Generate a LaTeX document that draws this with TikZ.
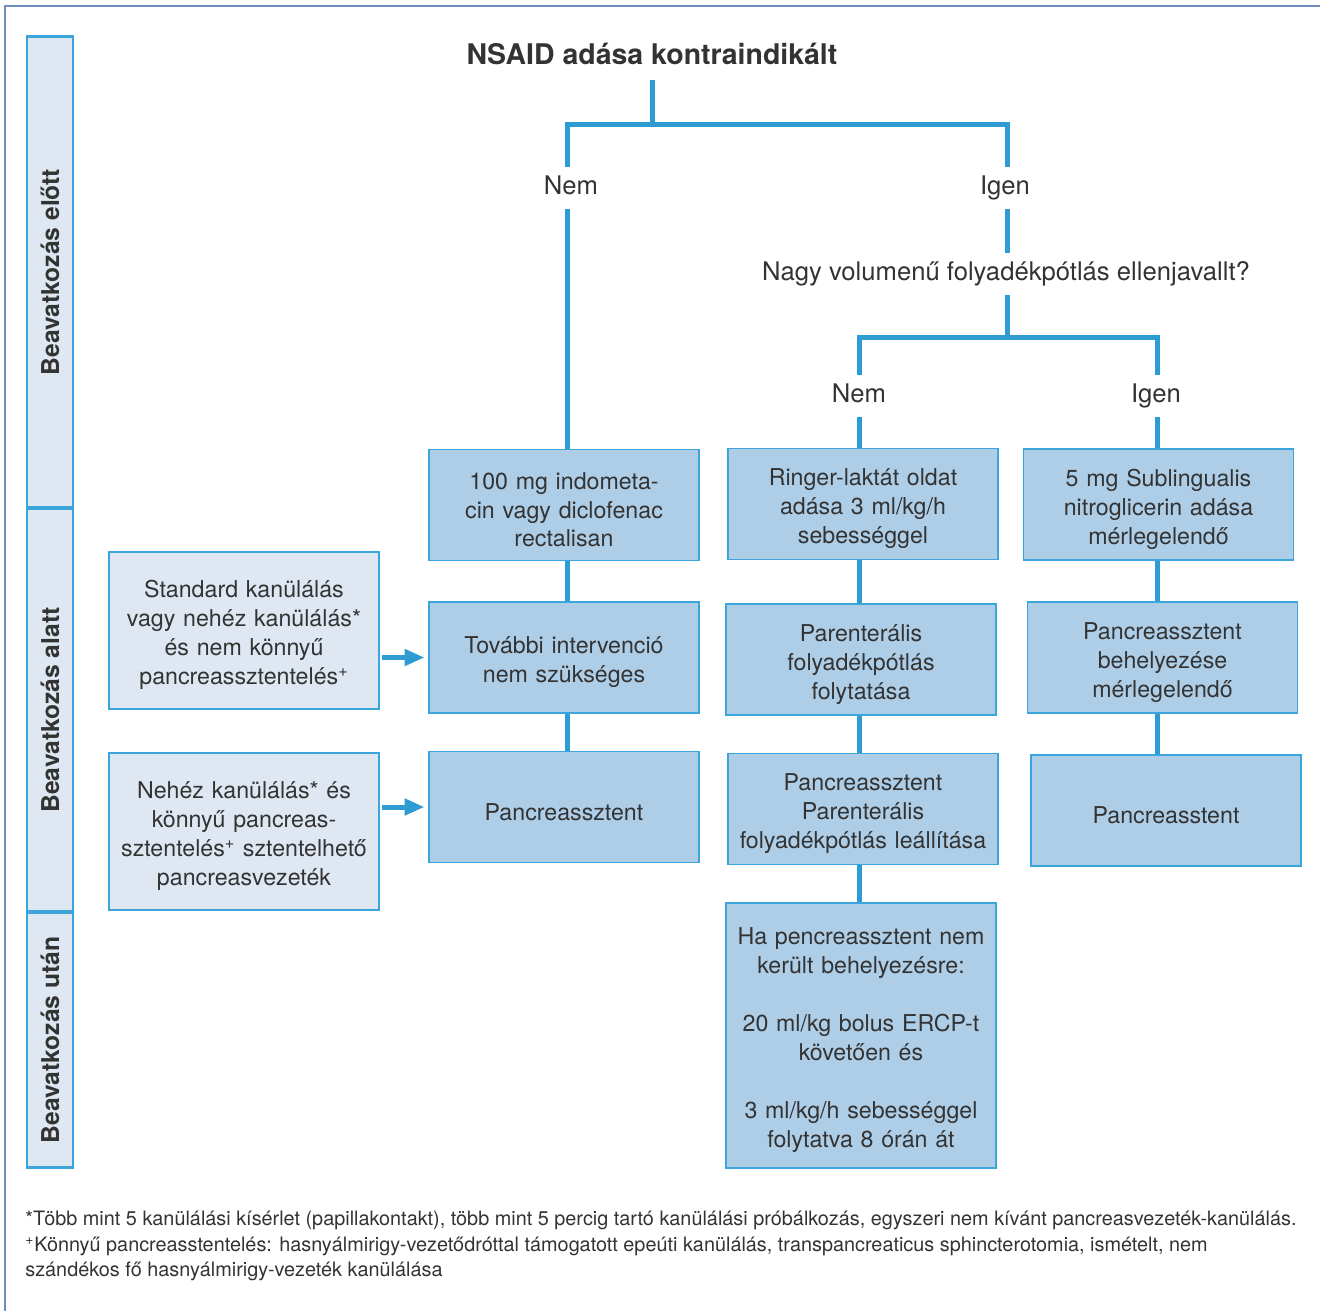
\documentclass[tikz,border=0pt]{standalone}
\usepackage{fontspec}
\setmainfont{TeX Gyre Heros}
\usetikzlibrary{arrows.meta,positioning}

\definecolor{linkblue}{HTML}{2E9BD2}
\definecolor{edgeblue}{HTML}{3AA6DC}
\definecolor{boxblue}{HTML}{AECEE8}
\definecolor{paleblue}{HTML}{DFE8F2}
\definecolor{framegray}{HTML}{6F8FBF}
\definecolor{txtgray}{HTML}{333333}

\begin{document}
\begin{tikzpicture}[
  x=0.02cm, y=-0.02cm,
  line join=miter,
  every node/.style={text=txtgray, font=\fontsize{14.6}{16.5}\selectfont},
  box/.style={draw=edgeblue, line width=1.1pt, fill=boxblue, align=center,
    text width=5.3cm, minimum width=5.4cm, minimum height=2.22cm, inner sep=1pt,
    text height=15pt, font=\fontsize{13.2}{16.5}\selectfont},
  sidebox/.style={box, fill=paleblue, minimum height=3.14cm},
  band/.style={draw=edgeblue, line width=1.7pt, fill=paleblue, rotate=90,
    minimum height=0.92cm, inner sep=0pt, font=\fontsize{14}{16.5}\selectfont\bfseries},
  lbl/.style={inner sep=2pt, text height=10.5pt, text depth=3pt, minimum height=0.84cm},
  title/.style={inner sep=2pt, minimum height=1.04cm, font=\fontsize{16.2}{19}\selectfont\bfseries},
  link/.style={draw=linkblue, line width=0.1cm},
  push/.style={draw=linkblue, line width=0.1cm, -{Triangle[length=0.4cm,width=0.32cm]},
    shorten >=2pt, shorten <=1pt},
  frame/.style={draw=framegray, line width=0.9pt}
]
\useasboundingbox (0,0) rectangle (1320,1311);

% ------------------------------------------------------------------
% Frame and phase bands
% ------------------------------------------------------------------
\draw[frame] (5,1311) -- (5,6) -- (1320,6);

\node[band, minimum width=9.44cm] (pre) at (50,272) {Beavatkozás előtt};
\node[band, minimum width=8.08cm] (intra) at (50,710) {Beavatkozás alatt};
\node[band, minimum width=5.12cm] (post) at (50,1040) {Beavatkozás után};

% ------------------------------------------------------------------
% Decision tree
% ------------------------------------------------------------------
\coordinate (colA) at (567,0);
\coordinate (colQ) at (1007,0);
\coordinate (colB) at (859,0);
\coordinate (colC) at (1157,0);
\coordinate (j1) at (652,125);
\coordinate (j2) at (1007,338);

\node[title] (nsaid) at (652,54) {NSAID adása kontraindikált};
\node[lbl] (nem1) at (571,188) {Nem};
\node[lbl] (igen1) at (1005,188) {Igen};
\node[lbl] (quest) at (1006,274) {Nagy volumenű folyadékpótlás ellenjavallt?};
\node[lbl] (nem2) at (859,396) {Nem};
\node[lbl] (igen2) at (1156,396) {Igen};

% left column
\node[box] (A1) at (564,505) {100 mg indometa-\\cin vagy diclofenac\\rectalisan};
\node[box] (A2) at (564,657.5) {További intervenció\\nem szükséges};
\node[box] (A3) at (564,807) {Pancreassztent};

\node[sidebox] (L1) at (244,630.5)
  {Standard kanülálás\\vagy nehéz kanülálás*\\és nem könnyű\\pancreassztentelés\textsuperscript{+}};
\node[sidebox] (L2) at (244,831.5)
  {Nehéz kanülálás* és\\könnyű pancreas-\\sztentelés\textsuperscript{+} sztentelhető\\pancreasvezeték};

% middle column
\node[box] (B1) at (863,504) {Ringer-laktát oldat\\adása 3 ml/kg/h\\sebességgel};
\node[box] (B2) at (861,659.5) {Parenterális\\folyadékpótlás\\folytatása};
\node[box] (B3) at (863,809) {Pancreassztent\\Parenterális\\folyadékpótlás leállítása};
\node[box, minimum height=5.3cm] (B4) at (861,1035.5)
  {Ha pencreassztent nem\\került behelyezésre:\\[16.5pt]20 ml/kg bolus ERCP-t\\követően és\\[16.5pt]3 ml/kg/h sebességgel\\folytatva 8 órán át};

% right column
\node[box] (C1) at (1158.5,504.5) {5 mg Sublingualis\\nitroglicerin adása\\mérlegelendő};
\node[box] (C2) at (1162.5,657.5) {Pancreassztent\\behelyezése\\mérlegelendő};
\node[box] (C3) at (1166,810.5) {Pancreasstent};

% connectors
\draw[link] (nsaid) -- (j1);
\draw[link] (nem1.north -| colA) |- (j1) -| (igen1.north -| colQ);
\draw[link] (nem1.south -| colA) -- (A1.north -| colA);
\draw[link] (igen1.south -| colQ) -- (quest.north -| colQ);
\draw[link] (quest.south -| colQ) -- (j2);
\draw[link] (nem2.north -| colB) |- (j2) -| (igen2.north -| colC);
\draw[link] (nem2.south -| colB) -- (B1.north -| colB);
\draw[link] (igen2.south -| colC) -- (C1.north -| colC);

\foreach \u/\v/\c in {A1/A2/colA, A2/A3/colA, B1/B2/colB, B2/B3/colB,
                      B3/B4/colB, C1/C2/colC, C2/C3/colC}
  \draw[link] (\u.south -| \c) -- (\v.north -| \c);

\draw[push] (L1.east |- A2) -- (A2.west);
\draw[push] (L2.east |- A3) -- (A3.west);

% ------------------------------------------------------------------
% Footnotes
% ------------------------------------------------------------------
\node[anchor=west, align=left, inner sep=0pt,
  font=\fontsize{11.3}{14.5}\selectfont] (notes) at (25,1246)
  {*Több mint 5 kanülálási kísérlet (papillakontakt), több mint 5 percig tartó kanülálási próbálkozás, egyszeri nem kívánt pancreasvezeték-kanülálás.\\
   \textsuperscript{+}Könnyű pancreasstentelés: hasnyálmirigy-vezetődróttal támogatott epeúti kanülálás, transpancreaticus sphincterotomia, ismételt, nem\\
   szándékos fő hasnyálmirigy-vezeték kanülálása};

\end{tikzpicture}
\end{document}
